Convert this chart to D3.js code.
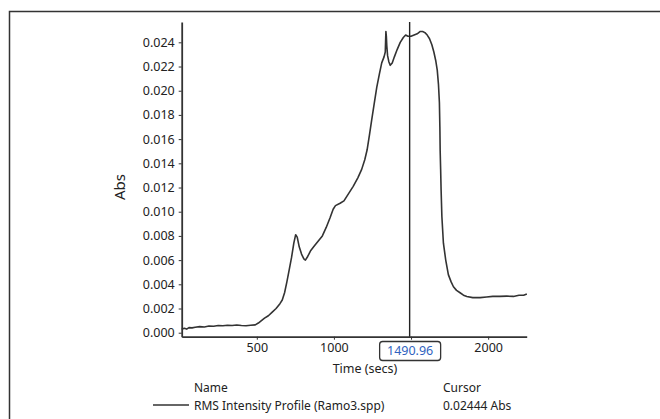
<!DOCTYPE html>
<html>
<head>
<meta charset="utf-8">
<script src="https://cdn.jsdelivr.net/npm/d3@7"></script>
<style>
  body { margin: 0; background: #fff; }
  svg { display: block; font-family: "Noto Sans", "Open Sans", sans-serif; }
  .axis path, .axis line { stroke: #333; }
  .axis text { fill: #222; font-size: 12.5px; font-family: "Noto Sans", sans-serif; }
</style>
</head>
<body>
<div id="chart"></div>
<script>
// RMS intensity profile: [time (s), absorbance]
const times = [13, 30, 45, 60, 80, 100, 130, 160, 190, 220, 250, 280, 310, 340, 370, 400, 430, 460, 490,
  510, 530, 550, 575, 600, 625, 650, 665, 680, 695, 710, 725, 740, 752, 762, 775, 790, 805, 815, 830,
  850, 875, 900, 925, 950, 975, 995, 1010, 1040, 1065, 1095, 1125, 1155, 1180, 1200, 1215, 1230, 1245,
  1262, 1278, 1295, 1310, 1325, 1333, 1337, 1340, 1343, 1348, 1356, 1365, 1378, 1392, 1410, 1430, 1450,
  1465, 1480, 1500, 1520, 1540, 1560, 1575, 1590, 1605, 1620, 1635, 1648, 1660, 1670, 1678, 1684, 1687,
  1689, 1692, 1695, 1700, 1710, 1725, 1742, 1760, 1775, 1795, 1818, 1840, 1862, 1900, 1948, 1990, 2030,
  2077, 2120, 2164, 2200, 2230, 2251];
const absValues = [0.00028, 0.00036, 0.0003, 0.00042, 0.0004, 0.00045, 0.0005, 0.00047, 0.00055, 0.00053,
  0.0006, 0.00057, 0.00062, 0.00059, 0.00064, 0.0006, 0.00057, 0.00062, 0.00065,
  0.0008, 0.001, 0.0012, 0.0014, 0.0017, 0.002, 0.0024, 0.0027, 0.0033, 0.0042, 0.0052, 0.0062, 0.0074,
  0.0081, 0.0079, 0.0071, 0.0065, 0.0061, 0.006, 0.0063, 0.0068, 0.0072, 0.0076, 0.008, 0.0087, 0.0095,
  0.0102, 0.0105, 0.0107, 0.0109, 0.0115, 0.0121, 0.0128, 0.0135, 0.0143, 0.0151, 0.0163, 0.0176, 0.019,
  0.0203, 0.0214, 0.0223, 0.0228, 0.0232, 0.0249, 0.0245, 0.0237, 0.0229, 0.0224, 0.0221, 0.0223, 0.0228,
  0.0234, 0.024, 0.0244, 0.0246, 0.0245, 0.0245, 0.0246, 0.0247, 0.0249, 0.0249, 0.0248, 0.0246, 0.0243,
  0.0238, 0.0232, 0.0225, 0.0217, 0.0205, 0.019, 0.017, 0.015, 0.0135, 0.0118, 0.0096, 0.0074, 0.006,
  0.0048, 0.0042, 0.0038, 0.0035, 0.0033, 0.0031, 0.003, 0.0029, 0.0029, 0.00295, 0.003, 0.003, 0.00302,
  0.003, 0.0031, 0.0031, 0.0032];

const xTicks = [500, 1000, 1500, 2000];
const yTicks = d3.range(0, 0.0241, 0.002);
const cursorTime = 1490.96;
const cursorLabel = "0.02444 Abs";
const seriesName = "RMS Intensity Profile (Ramo3.spp)";

const W = 660, H = 419;
const svg = d3.select("#chart").append("svg").attr("width", W).attr("height", H);

// outer frame (runs off the right and bottom edges)
svg.append("rect")
  .attr("x", 9.5).attr("y", 11.5).attr("width", 700).attr("height", 450)
  .attr("fill", "none").attr("stroke", "#333").attr("stroke-width", 1.5);

const x = d3.scaleLinear().domain([13, 2250]).range([181.7, 526.7]);
const y = d3.scaleLinear().domain([-0.00033, 0.02568]).range([336.7, 22]);

// axes
svg.append("g").attr("class", "axis")
  .attr("transform", `translate(${x.range()[0]},0)`)
  .call(d3.axisLeft(y).tickValues(yTicks).tickFormat(d3.format(".3f")).tickSize(3).tickPadding(4).tickSizeOuter(0))
  .call(g => g.select(".domain").attr("stroke-width", 1.8));

svg.append("g").attr("class", "axis")
  .attr("transform", `translate(0,${y.range()[0]})`)
  .call(d3.axisBottom(x).tickValues(xTicks).tickFormat(d => d === 1500 ? "" : d).tickSize(3).tickPadding(3).tickSizeOuter(0))
  .call(g => g.select(".domain").attr("stroke-width", 1.8));

// curve
const pts = times.map((t, i) => [t, absValues[i]]);
svg.append("path")
  .datum(pts)
  .attr("fill", "none")
  .attr("stroke", "#333")
  .attr("stroke-width", 1.6)
  .attr("stroke-linejoin", "round")
  .attr("d", d3.line().x(d => x(d[0])).y(d => y(d[1])));

// cursor
const cx = x(cursorTime);
svg.append("line")
  .attr("x1", cx).attr("x2", cx).attr("y1", y.range()[1]).attr("y2", y.range()[0])
  .attr("stroke", "#222").attr("stroke-width", 1.4);

svg.append("rect")
  .attr("x", cx - 30).attr("y", 341.5).attr("width", 61).attr("height", 19)
  .attr("rx", 3).attr("fill", "#fff").attr("stroke", "#333").attr("stroke-width", 1.3);
svg.append("text")
  .attr("x", cx + 0.5).attr("y", 351).attr("dy", "0.35em")
  .attr("text-anchor", "middle").attr("fill", "#2f63c0").attr("font-size", 12.5)
  .text(cursorTime.toFixed(2));

// axis titles
svg.append("text")
  .attr("x", 365).attr("y", 369).attr("dy", "0.35em")
  .attr("text-anchor", "middle").attr("fill", "#222").attr("font-size", 12.5)
  .text("Time (secs)");

svg.append("text")
  .attr("transform", "translate(120,187) rotate(-90)")
  .attr("dy", "0.35em")
  .attr("text-anchor", "middle").attr("fill", "#222").attr("font-size", 15)
  .text("Abs");

// legend
const legend = svg.append("g").attr("fill", "#222").attr("font-size", 12);
legend.append("text").attr("x", 194).attr("y", 388).attr("dy", "0.35em").text("Name");
legend.append("text").attr("x", 194).attr("y", 405.5).attr("dy", "0.35em").text(seriesName);
legend.append("text").attr("x", 443).attr("y", 388).attr("dy", "0.35em").text("Cursor");
legend.append("text").attr("x", 443).attr("y", 405.5).attr("dy", "0.35em").text(cursorLabel);
legend.append("line")
  .attr("x1", 153).attr("x2", 189).attr("y1", 405).attr("y2", 405)
  .attr("stroke", "#333").attr("stroke-width", 1.3);
</script>
</body>
</html>
